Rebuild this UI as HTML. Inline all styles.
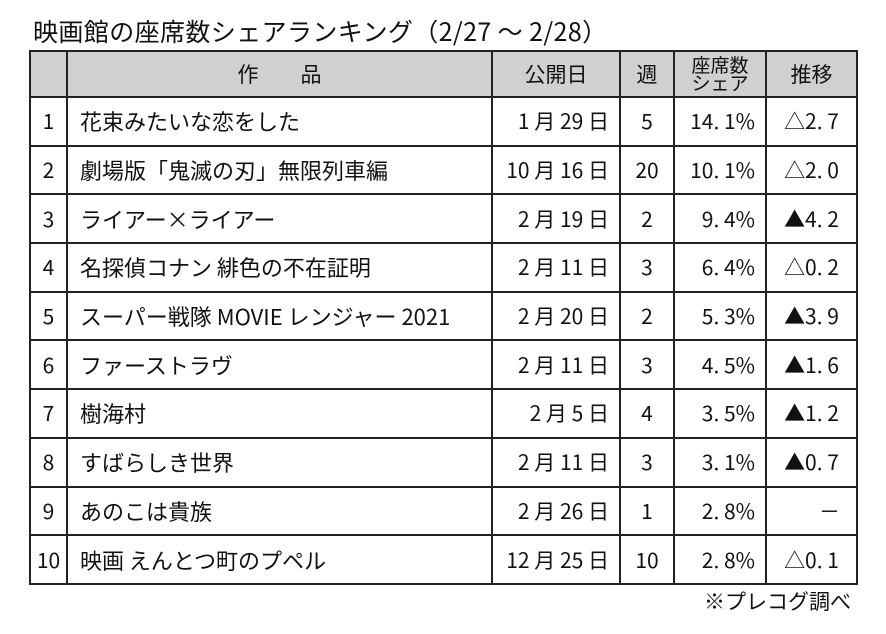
<!DOCTYPE html>
<html><head><meta charset="utf-8"><style>
body{margin:0;width:886px;height:634px;background:#fff;position:relative;overflow:hidden;font-family:"Noto Sans CJK JP","Liberation Sans",sans-serif;color:#111}
.title{position:absolute;left:33px;top:15px;font-size:25px;line-height:32px;white-space:nowrap;letter-spacing:0.4px}
table{position:absolute;left:29px;top:50px;border-collapse:collapse;table-layout:fixed}
td{border:2px solid #222;padding:0;font-size:21px;line-height:24px;white-space:nowrap;vertical-align:middle}
tr{height:48.7px}
tr.h{height:46px}
tr.h td{background:#d0d0d0;text-align:center}
.n{text-align:center}
.t{padding-left:12px;font-size:22px}
.r{text-align:right;padding-right:10px}
.c{text-align:center}
.s{line-height:18px;font-size:19px}
.foot{position:absolute;left:704px;top:586px;font-size:21px;line-height:30px}
</style></head><body>
<div class="title">映画館の座席数シェアランキング（2/27 ～ 2/28）</div>
<table>
<colgroup><col style="width:37px"><col style="width:425px"><col style="width:128px"><col style="width:54px"><col style="width:92px"><col style="width:91px"></colgroup>
<tr class="h"><td></td><td>作　　品</td><td>公開日</td><td>週</td><td class="s">座席数<br>シェア</td><td>推移</td></tr>
<tr><td class="n">1</td><td class="t">花束みたいな恋をした</td><td class="r">1 月 29 日</td><td class="c">5</td><td class="r">14. 1%</td><td class="c">△2. 7</td></tr>
<tr><td class="n">2</td><td class="t">劇場版「鬼滅の刃」無限列車編</td><td class="r">10 月 16 日</td><td class="c">20</td><td class="r">10. 1%</td><td class="c">△2. 0</td></tr>
<tr><td class="n">3</td><td class="t">ライアー×ライアー</td><td class="r">2 月 19 日</td><td class="c">2</td><td class="r">9. 4%</td><td class="c">▲4. 2</td></tr>
<tr><td class="n">4</td><td class="t">名探偵コナン 緋色の不在証明</td><td class="r">2 月 11 日</td><td class="c">3</td><td class="r">6. 4%</td><td class="c">△0. 2</td></tr>
<tr><td class="n">5</td><td class="t">スーパー戦隊 MOVIE レンジャー 2021</td><td class="r">2 月 20 日</td><td class="c">2</td><td class="r">5. 3%</td><td class="c">▲3. 9</td></tr>
<tr><td class="n">6</td><td class="t">ファーストラヴ</td><td class="r">2 月 11 日</td><td class="c">3</td><td class="r">4. 5%</td><td class="c">▲1. 6</td></tr>
<tr><td class="n">7</td><td class="t">樹海村</td><td class="r">2 月 5 日</td><td class="c">4</td><td class="r">3. 5%</td><td class="c">▲1. 2</td></tr>
<tr><td class="n">8</td><td class="t">すばらしき世界</td><td class="r">2 月 11 日</td><td class="c">3</td><td class="r">3. 1%</td><td class="c">▲0. 7</td></tr>
<tr><td class="n">9</td><td class="t">あのこは貴族</td><td class="r">2 月 26 日</td><td class="c">1</td><td class="r">2. 8%</td><td class="r" style="padding-right:16px">－</td></tr>
<tr><td class="n">10</td><td class="t">映画 えんとつ町のプペル</td><td class="r">12 月 25 日</td><td class="c">10</td><td class="r">2. 8%</td><td class="c">△0. 1</td></tr>
</table>
<div class="foot">※プレコグ調べ</div>
</body></html>
